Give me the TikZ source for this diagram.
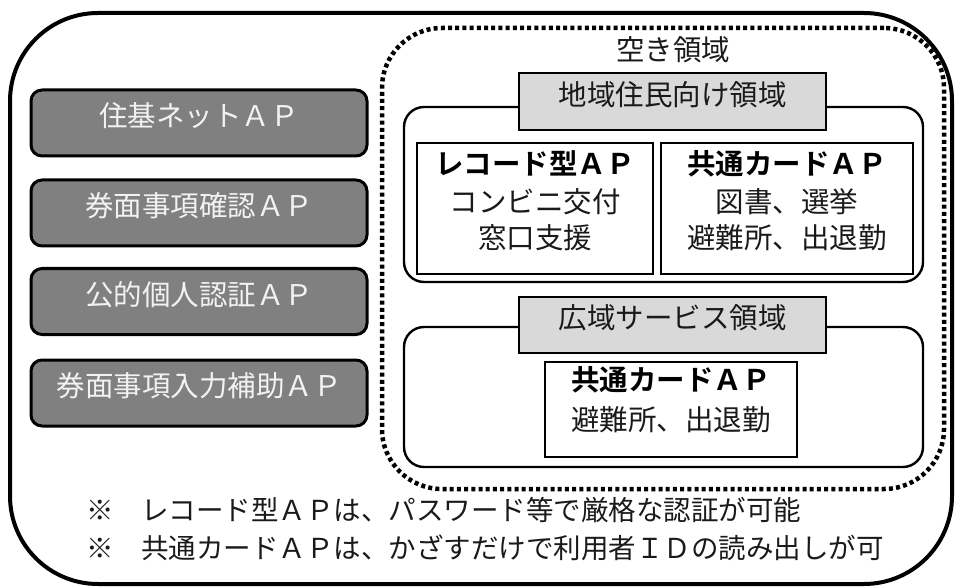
\documentclass[tikz,border=0pt]{standalone}
\usepackage{fontspec}
\newfontfamily\jp{Noto Sans CJK JP}[BoldFont={Noto Sans CJK JP Bold}]
\newcommand\jpsize{\fontsize{28.5}{34}\selectfont}
\newcommand\notesize{\fontsize{27.5}{32}\selectfont}
\definecolor{apgray}{HTML}{808080}
\definecolor{labelgray}{HTML}{D9D9D9}
\definecolor{inkblack}{HTML}{1A1A1A}
\definecolor{aptext}{HTML}{F2F2F2}
\tikzset{
  jptext/.style={font=\jp\jpsize, text=inkblack, inner sep=0pt, text height=0.88em, text depth=0.12em},
  jpbold/.style={font=\jp\jpsize\bfseries, text=black, inner sep=0pt, text height=0.88em, text depth=0.12em},
  outerbox/.style={draw, line width=4pt, rounded corners=88pt, inner sep=0pt},
  freearea/.style={draw, line width=4.5pt, dash pattern=on 4pt off 3.2pt, rounded corners=60pt, inner sep=0pt},
  apbox/.style={draw, line width=3pt, fill=apgray, rounded corners=11pt, minimum width=336pt, minimum height=66pt,
    font=\jp\jpsize, text=aptext, inner sep=0pt, text height=0.88em, text depth=0.12em},
  regionbox/.style={draw, line width=2.4pt, rounded corners=20pt, minimum width=519pt, inner sep=0pt},
  labelbox/.style={draw, line width=1.5pt, fill=labelgray, minimum width=307pt, minimum height=57pt,
    font=\jp\jpsize, text=inkblack, inner sep=0pt, text height=0.88em, text depth=0.12em},
  cardbox/.style={draw, line width=1.5pt, inner sep=0pt},
  notetext/.style={font=\jp\notesize, text=inkblack, inner sep=0pt, anchor=west, text height=0.88em, text depth=0.12em}
}
\begin{document}
\begin{tikzpicture}[x=1pt,y=-1pt]
\useasboundingbox (0,0) rectangle (956,588);
% outer frame
\node[outerbox, minimum width=942pt, minimum height=571pt] (outer) at (481,298.5) {};
% free area (dotted)
\node[freearea, minimum width=562pt, minimum height=461pt] (free) at (663,258.5) {};
% left AP boxes
\node[apbox] (ap1) at (199,123) {住基ネットＡＰ};
\node[apbox] (ap2) at (199,213) {券面事項確認ＡＰ};
\node[apbox] (ap3) at (199,301.5) {公的個人認証ＡＰ};
\node[apbox] (ap4) at (199,393) {券面事項入力補助ＡＰ};
% title of free area
\node[jptext] (freetitle) at (673,57) {空き領域};
% upper region
\node[regionbox, minimum height=175pt] (upper) at (663.5,194.5) {};
\node[labelbox] (upperlabel) at (672.5,101.5) {地域住民向け領域};
\node[cardbox, minimum width=236pt, minimum height=131pt] (recbox) at (535,208.5) {};
\node[cardbox, minimum width=252pt, minimum height=131pt] (combox) at (787,208.5) {};
\node[jpbold] (rech) at (535,171) {レコード型ＡＰ};
\node[jptext] (rec1) at (535,209) {コンビニ交付};
\node[jptext] (rec2) at (535,245) {窓口支援};
\node[jpbold] (comh) at (787,171) {共通カードＡＰ};
\node[jptext] (com1) at (787,209) {図書、選挙};
\node[jptext] (com2) at (787,245) {避難所、出退勤};
% lower region
\node[regionbox, minimum height=140pt] (lower) at (663.5,397) {};
\node[labelbox, minimum height=56pt] (lowerlabel) at (672.5,325) {広域サービス領域};
\node[cardbox, minimum width=252pt, minimum height=95pt] (widebox) at (671,409.5) {};
\node[jpbold] (wideh) at (671,387) {共通カードＡＰ};
\node[jptext] (wide1) at (671,427) {避難所、出退勤};
% notes
\node[notetext] (note1) at (86,517) {※　レコード型ＡＰは、パスワード等で厳格な認証が可能};
\node[notetext] (note2) at (86,555) {※　共通カードＡＰは、かざすだけで利用者ＩＤの読み出しが可};
\end{tikzpicture}
\end{document}
